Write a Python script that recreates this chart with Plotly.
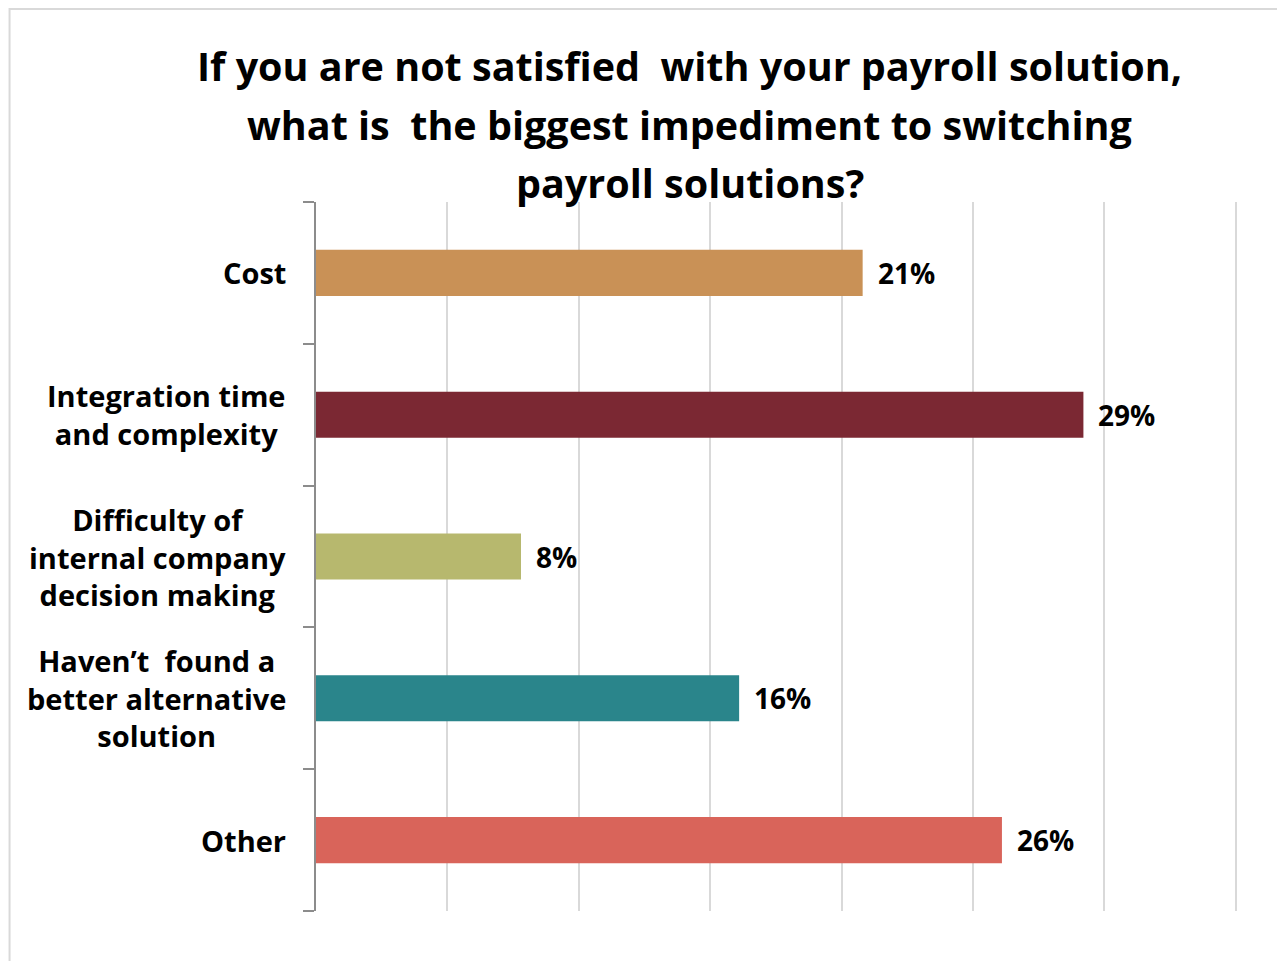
import plotly.graph_objects as go

categories = ["Cost", "Integration time<br>and complexity", "Difficulty of<br>internal company<br>decision making",
              "Haven\u2019t  found a<br>better alternative<br>solution", "Other"]
values = [20.8, 29.2, 7.8, 16.1, 26.1]
value_labels = ["21%", "29%", "8%", "16%", "26%"]
colors = ["#C99156", "#7B2833", "#B7B86E", "#2A858B", "#D9645A"]
title_lines = ["If you are not satisfied  with your payroll solution,",
               "what is  the biggest impediment to switching",
               "payroll solutions?"]

FONT = "'Open Sans', Lato, sans-serif"
OFF = 8  # default page body margin
W, H = 1285 - OFF, 961 - OFF
XMAX = 35.12
L, R, T, B = 316 - OFF, 316 + XMAX / 35 * 920 - OFF, 202 - OFF, 911 - OFF

n = len(categories)
ypos = list(range(n))

fig = go.Figure(go.Bar(
    x=values, y=ypos, orientation="h",
    marker=dict(color=colors, line=dict(width=0)),
    hoverinfo="skip",
))

def px_x(px):
    return (px - OFF - L) / (R - L)

def px_y(py):
    return (B - (py - OFF)) / (B - T)

ann = []
for yi, c, v, t in zip(ypos, categories, values, value_labels):
    ann.append(dict(x=v, y=yi, xref="x", yref="y", text=t, showarrow=False,
                    xanchor="left", yanchor="middle", xshift=13,
                    font=dict(family=FONT, size=28, color="#000000", weight="bold")))
    ann.append(dict(x=px_x(288), y=yi, xref="paper", yref="y", text=c, showarrow=False,
                    xanchor="right", yanchor="middle", align="center",
                    font=dict(family=FONT, size=29, color="#000000", weight="bold")))
for line, cy in zip(title_lines, [66, 125, 183]):
    ann.append(dict(x=px_x(690), y=px_y(cy), xref="paper", yref="paper",
                    text=line, showarrow=False, xanchor="center", yanchor="middle",
                    font=dict(family=FONT, size=39.5, color="#000000", weight="bold")))

fig.update_layout(
    width=W, height=H,
    margin=dict(l=L, r=W - R, t=T, b=H - B),
    paper_bgcolor="white", plot_bgcolor="white",
    bargap=0.675, showlegend=False,
    annotations=ann,
    shapes=[dict(type="rect", xref="paper", yref="paper",
                 x0=px_x(9.5), x1=px_x(1283),
                 y0=px_y(1000), y1=px_y(9),
                 line=dict(color="#D9D9D9", width=2), layer="below")],
    xaxis=dict(range=[0, XMAX], tick0=0, dtick=5, showgrid=True, gridcolor="#D9D9D9", gridwidth=2,
               showticklabels=False, zeroline=False, showline=False, fixedrange=True),
    yaxis=dict(range=[n - 0.5, -0.5], tickmode="array", tickvals=[i - 0.5 for i in range(n + 1)],
               showticklabels=False, showline=True, linecolor="#8C8C8C",
               linewidth=2, ticks="outside", ticklen=11, tickwidth=2,
               tickcolor="#8C8C8C", showgrid=False, zeroline=False, fixedrange=True),
)

fig.write_html("out.html")
